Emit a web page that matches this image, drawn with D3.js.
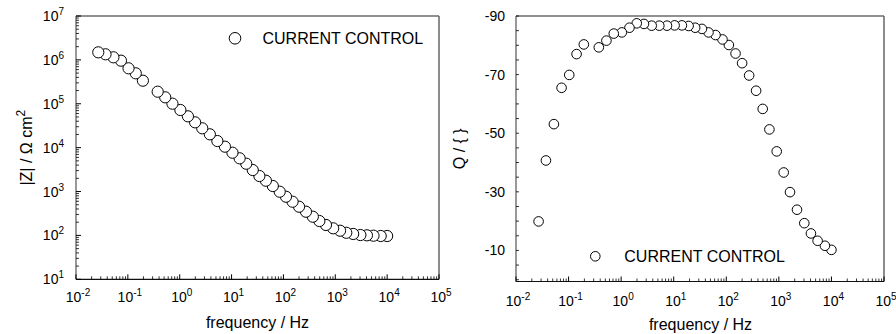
<!DOCTYPE html>
<html>
<head>
<meta charset="utf-8">
<script src="https://cdn.jsdelivr.net/npm/d3@7/dist/d3.min.js"></script>
<style>
  html, body { margin: 0; padding: 0; background: #fff; }
  svg { display: block; font-family: "Liberation Sans", Arial, sans-serif; }
</style>
</head>
<body>
<svg id="chart" width="896" height="334"></svg>
<script>
// Bode data, current control (highest frequency first)
const frequency = [10000, 7516, 5458, 4074, 3048, 2213, 1629, 1236, 910, 661,
  493, 369, 272, 200, 150, 112, 84.7, 62.4, 45.9, 34.4,
  25.6, 19.2, 14.3, 10.4, 7.45, 5.32, 3.81, 2.72, 1.98, 1.44,
  1.03, 0.724, 0.525, 0.376, 0.195, 0.142, 0.103, 0.0736, 0.0526, 0.0371, 0.0269];

// |Z| in ohm cm^2
const impedance = [97, 97, 98.6, 100.5, 102, 108, 115, 128, 145, 173,
  213, 267, 347, 451, 586, 762, 991, 1337, 1766, 2259,
  3090, 4305, 5715, 7674, 10520, 14160, 20140, 27610, 37760, 51760,
  72110, 100500, 140300, 188400, 335700, 494300, 642700, 959400, 1145000, 1340000, 1486000];

// phase angle in degrees
const phase = [-10.2, -11.6, -13.3, -15.8, -19.3, -23.9, -29.9, -36.6, -43.8, -51.3,
  -58.3, -64.5, -69.7, -73.9, -77.2, -80.1, -82.0, -83.5, -84.4, -85.6,
  -86.0, -86.6, -86.8, -86.8, -86.7, -86.7, -86.7, -87.3, -87.5, -86.0,
  -84.4, -84.0, -81.6, -79.3, -80.3, -77.0, -69.9, -65.5, -53.1, -40.7, -19.9];

const seriesName = "CURRENT CONTROL";
const freqDecades = [-2, -1, 0, 1, 2, 3, 4, 5];
const zDecades = [1, 2, 3, 4, 5, 6, 7];
const phaseTicks = [-90, -70, -50, -30, -10];
const xTitle = "frequency / Hz";

const svg = d3.select("#chart");
const FONT = "Liberation Sans, Arial, sans-serif";

function powerLabel(sel, exp, x, y, anchor) {
  const t = sel.append("text")
    .attr("x", x).attr("y", y)
    .attr("text-anchor", anchor)
    .attr("font-size", 14)
    .attr("fill", "#000");
  t.append("tspan").text("10");
  t.append("tspan").attr("dy", -6).attr("font-size", 10).text(exp);
  return t;
}

function logMinor(lo, hi) {
  const out = [];
  for (let e = lo; e < hi; e++) {
    for (let m = 2; m <= 9; m++) out.push(m * Math.pow(10, e));
  }
  return out;
}

function frame(g, x0, x1, y0, y1) {
  g.append("line").attr("x1", x0).attr("x2", x1).attr("y1", y0).attr("y2", y0)
    .attr("stroke", "#222").attr("stroke-width", 1);
  g.append("line").attr("x1", x1).attr("x2", x1).attr("y1", y0).attr("y2", y1)
    .attr("stroke", "#666").attr("stroke-width", 1.5);
  g.append("line").attr("x1", x0).attr("x2", x0).attr("y1", y0).attr("y2", y1)
    .attr("stroke", "#555").attr("stroke-width", 1.2);
  g.append("line").attr("x1", x0).attr("x2", x1).attr("y1", y1).attr("y2", y1)
    .attr("stroke", "#111").attr("stroke-width", 1.2);
}

function freqAxis(g, x, yBase, labelBase) {
  // minor ticks (inward)
  g.append("g").selectAll("line").data(logMinor(-2, 5)).join("line")
    .attr("x1", d => x(d)).attr("x2", d => x(d))
    .attr("y1", yBase).attr("y2", yBase - 3)
    .attr("stroke", "#000").attr("stroke-width", 0.8);
  g.append("g").selectAll("line").data(freqDecades).join("line")
    .attr("x1", d => x(Math.pow(10, d))).attr("x2", d => x(Math.pow(10, d)))
    .attr("y1", yBase).attr("y2", yBase - 5)
    .attr("stroke", "#000").attr("stroke-width", 1);
  freqDecades.forEach(d => {
    powerLabel(g, String(d).replace("-", "-"), x(Math.pow(10, d)) + 2, labelBase, "middle");
  });
}

/* ---------- left panel: |Z| vs frequency ---------- */
const L = { x0: 76, x1: 439, y0: 16, y1: 279.3 };
const xL = d3.scaleLog().domain([1e-2, 1e5]).range([L.x0, L.x1]);
const yL = d3.scaleLog().domain([1e1, 1e7]).range([L.y1, L.y0]);
const gL = svg.append("g");
frame(gL, L.x0, L.x1, L.y0, L.y1);
freqAxis(gL, xL, L.y1, 302);
gL.append("g").selectAll("line").data(logMinor(1, 7)).join("line")
  .attr("x1", L.x0).attr("x2", L.x0 + 3)
  .attr("y1", d => yL(d)).attr("y2", d => yL(d))
  .attr("stroke", "#000").attr("stroke-width", 0.8);
gL.append("g").selectAll("line").data(zDecades).join("line")
  .attr("x1", L.x0).attr("x2", L.x0 + 5)
  .attr("y1", d => yL(Math.pow(10, d))).attr("y2", d => yL(Math.pow(10, d)))
  .attr("stroke", "#000").attr("stroke-width", 1);
zDecades.forEach(d => powerLabel(gL, String(d), 64, yL(Math.pow(10, d)) + 5, "end"));

gL.append("g").selectAll("circle").data(frequency).join("circle")
  .attr("cx", (d, i) => xL(d)).attr("cy", (d, i) => yL(impedance[i]))
  .attr("r", 5.6).attr("fill", "#fff").attr("stroke", "#000").attr("stroke-width", 1);

// legend
gL.append("circle").attr("cx", 235).attr("cy", 38.3).attr("r", 5.8)
  .attr("fill", "#fff").attr("stroke", "#000").attr("stroke-width", 1);
gL.append("text").attr("x", 262.5).attr("y", 44).attr("font-size", 16).text(seriesName);

// axis titles
gL.append("text").attr("x", 257.5).attr("y", 328).attr("text-anchor", "middle")
  .attr("font-size", 16).text(xTitle);
const tZ = gL.append("text")
  .attr("transform", `translate(32,${(L.y0 + L.y1) / 2}) rotate(-90)`)
  .attr("text-anchor", "middle").attr("font-size", 16);
tZ.append("tspan").text("|Z| / \u03A9 cm");
tZ.append("tspan").attr("dy", -7).attr("font-size", 12).text("2");

/* ---------- right panel: phase vs frequency ---------- */
const R = { x0: 516, x1: 884, y0: 16, y1: 281.5 };
const xR = d3.scaleLog().domain([1e-2, 1e5]).range([R.x0, R.x1]);
const yR = d3.scaleLinear().domain([-90, 0.6]).range([R.y0, R.y1]);
const gR = svg.append("g");
frame(gR, R.x0, R.x1, R.y0, R.y1);
freqAxis(gR, xR, R.y1, 306);
gR.append("g").selectAll("line").data(d3.range(-90, 1, 5)).join("line")
  .attr("x1", R.x0).attr("x2", R.x0 + 3)
  .attr("y1", d => yR(d)).attr("y2", d => yR(d))
  .attr("stroke", "#000").attr("stroke-width", 0.8);
gR.append("g").selectAll("text").data(phaseTicks).join("text")
  .attr("x", 505).attr("y", d => yR(d) + 5)
  .attr("text-anchor", "end").attr("font-size", 14).text(d => d);

gR.append("g").selectAll("circle").data(frequency).join("circle")
  .attr("cx", d => xR(d)).attr("cy", (d, i) => yR(phase[i]))
  .attr("r", 4.8).attr("fill", "#fff").attr("stroke", "#000").attr("stroke-width", 1);

gR.append("circle").attr("cx", 595.3).attr("cy", 256.3).attr("r", 4.8)
  .attr("fill", "#fff").attr("stroke", "#000").attr("stroke-width", 1);
gR.append("text").attr("x", 624.3).attr("y", 262).attr("font-size", 16).text(seriesName);

gR.append("text").attr("x", 700.5).attr("y", 330).attr("text-anchor", "middle")
  .attr("font-size", 16).text(xTitle);
gR.append("text")
  .attr("transform", `translate(465,${(R.y0 + R.y1) / 2}) rotate(-90)`)
  .attr("text-anchor", "middle").attr("font-size", 16).text("Q / { }");
</script>
</body>
</html>
